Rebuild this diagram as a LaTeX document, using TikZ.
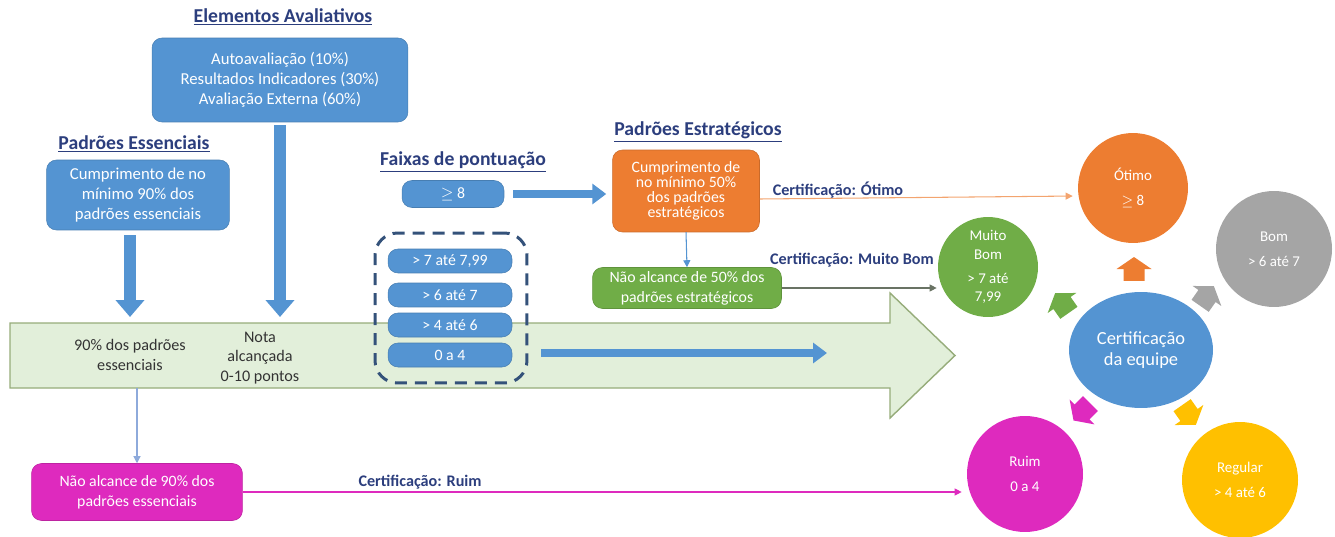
\documentclass[tikz,border=0pt]{standalone}
\usepackage{fontspec}
\setmainfont{Carlito}
\usepackage{tikz}
\usetikzlibrary{shapes,arrows.meta,positioning,calc}
\definecolor{boxblue}{RGB}{84,148,210}
\definecolor{navy}{RGB}{44,62,125}
\definecolor{dashblue}{RGB}{52,82,122}
\definecolor{lightblue}{RGB}{142,170,219}
\definecolor{optorange}{RGB}{237,125,49}
\definecolor{optgreen}{RGB}{112,173,71}
\definecolor{optgray}{RGB}{165,165,165}
\definecolor{optgold}{RGB}{255,192,0}
\definecolor{optpink}{RGB}{222,42,190}
\definecolor{linegray}{RGB}{105,115,100}
\definecolor{bandfill}{RGB}{226,239,218}
\definecolor{bandline}{RGB}{150,172,122}
\tikzstyle{block} = [draw=boxblue!85!black, line width=0.3pt, fill=boxblue, rounded corners=0.2cm, text=white, align=center, inner sep=0pt, font=\fontsize{9}{11.3}\selectfont]
\tikzstyle{title} = [text=navy, inner sep=0pt, font=\bfseries\fontsize{11.2}{13}\selectfont]
\tikzstyle{cert} = [text=navy, inner sep=0pt, font=\bfseries\fontsize{9.2}{11}\selectfont]
\tikzstyle{grade} = [circle, text=white, align=center, inner sep=0pt, font=\fontsize{8.5}{10.5}\selectfont]
\tikzstyle{bandtext} = [text=black!80, align=center, inner sep=0pt, font=\fontsize{9.2}{11.3}\selectfont]
\tikzstyle{bigarrow} = [boxblue, line width=0.24cm, -{Triangle[length=0.34cm,width=0.56cm]}]
\tikzstyle{midarrow} = [boxblue, line width=0.17cm, -{Triangle[length=0.28cm,width=0.4cm]}]
\tikzstyle{thinarrow} = [line width=0.6pt, -{Triangle[length=4pt,width=4pt]}]

\begin{document}
\begin{tikzpicture}[x=0.02cm, y=-0.02cm]
    \useasboundingbox (0,0) rectangle (1335,537);
    % Green band
    \draw[bandline, fill=bandfill, line width=0.8pt] (10,323) -- (890,323) -- (890,293) -- (955,355.5) -- (890,418) -- (890,388) -- (10,388) -- cycle;
    \coordinate (bandtop) at (0,317);
    \coordinate (bandbot) at (0,388);
    \coordinate (bandgoal) at (827,353);
    \coordinate (essdrop) at (130,317);
    \node[bandtext] (pct) at (130,355) {90\% dos padrões\\essenciais};
    \node[bandtext] (nota) at (260,358) {Nota\\alcançada\\0-10 pontos};

    % Evaluation elements
    \node[title] (tElem) at (283,17) {\underline{Elementos Avaliativos}};
    \node[block, minimum width=5.12cm, minimum height=1.68cm, font=\fontsize{9.5}{11.3}\selectfont] (elem) at (280,80) {Autoavaliação (10\%)\\Resultados Indicadores (30\%)\\Avaliação Externa (60\%)};
    \node[title] (tEssen) at (134,144) {\underline{Padrões Essenciais}};
    \node[block, minimum width=3.66cm, minimum height=1.4cm, font=\fontsize{9.5}{11.3}\selectfont] (essen) at (138,195) {Cumprimento de no\\mínimo 90\% dos\\padrões essenciais};

    % Score ranges
    \node[title] (tFaixas) at (463,162) {\underline{Faixas de pontuação}};
    \node[block, minimum width=2.04cm, minimum height=0.54cm] (ge8) at (453,194) {$\geq$ 8};
    \node[draw=dashblue, line width=1.7pt, dash pattern=on 0.24cm off 0.16cm, rounded corners=0.45cm, minimum width=3.04cm, minimum height=3.0cm] (faixas) at (451,308) {};
    \node[block, minimum width=2.48cm, minimum height=0.48cm] (f1) at (450,261) {> 7 até 7,99};
    \node[block, minimum width=2.48cm, minimum height=0.48cm] (f2) at (450,295) {> 6 até 7};
    \node[block, minimum width=2.48cm, minimum height=0.48cm] (f3) at (450,325) {> 4 até 6};
    \node[block, minimum width=2.48cm, minimum height=0.48cm] (f4) at (450,355) {0 a 4};

    % Strategic standards
    \node[title] (tEstrat) at (698,132) {\underline{Padrões Estratégicos}};
    \node[block, fill=optorange, draw=optorange!85!black, minimum width=2.94cm, minimum height=1.64cm, font=\fontsize{9}{8.6}\selectfont] (estrat) at (686,191) {Cumprimento de\\no mínimo 50\%\\dos padrões\\estratégicos};
    \node[block, fill=optgreen, draw=optgreen!85!black, minimum width=3.78cm, minimum height=0.82cm] (naoest) at (687,288) {Não alcance de 50\% dos\\padrões estratégicos};
    \node[block, fill=optpink, draw=optpink!85!black, minimum width=4.22cm, minimum height=1.14cm] (naoess) at (137,492) {Não alcance de 90\% dos\\padrões essenciais};

    % Certification
    \node[grade, fill=optorange, minimum size=2.2cm] (otimo) at (1133,188) {Ótimo\\[4pt]$\geq$ 8};
    \node[grade, fill=optgreen, minimum size=2.0cm] (mbom) at (988,267) {Muito\\Bom\\[3pt]> 7 até\\7,99};
    \node[grade, fill=optgray, minimum size=2.32cm] (bom) at (1274,249) {Bom\\[4pt]> 6 até 7};
    \node[ellipse, fill=boxblue, text=white, align=center, inner sep=0pt, minimum width=2.88cm, minimum height=2.32cm, font=\fontsize{10.5}{12}\selectfont] (centre) at (1141,350) {Certificação\\da equipe};
    \node[grade, fill=optpink, minimum size=2.32cm] (ruim) at (1025,474) {Ruim\\[4pt]0 a 4};
    \node[grade, fill=optgold, minimum size=2.32cm] (regular) at (1240,480) {Regular\\[4pt]> 4 até 6};
    % small arrows round the centre
    \foreach \ax/\ay/\ang/\col in {1134/269/90/optorange, 1062/303/125/optgreen, 1207/296/55/optgray, 1082/412/225/optpink, 1189/415/-55/optgold}
        \fill[\col, shift={(\ax,\ay)}, rotate=\ang] (-0.24cm,-0.21cm) -- (0,-0.21cm) -- (0,-0.35cm) -- (0.24cm,0) -- (0,0.35cm) -- (0,0.21cm) -- (-0.24cm,0.21cm) -- cycle;

    % Connections
    \draw[bigarrow, shorten <=0.06cm] (elem.south) -- (elem.south |- bandtop);
    \draw[bigarrow, shorten <=0.1cm] (essen.south -| essdrop) -- (essdrop);
    \draw[midarrow, shorten <=0.18cm, shorten >=0.12cm] (ge8.east) -- (ge8.east -| estrat.west);
    \draw[midarrow, shorten <=0.26cm] (faixas.east |- bandgoal) -- (bandgoal);
    \draw[thinarrow, boxblue] (estrat.south) -- (naoest.north);
    \draw[thinarrow, lightblue] (naoess.north |- bandbot) -- (naoess.north);
    \draw[thinarrow, optorange!70, shorten >=0.1cm] ([yshift=-0.16cm]estrat.east) -- node[cert, pos=0.246, above=0pt] {Certificação: Ótimo} ([yshift=-0.16cm]otimo.west);
    \draw[thinarrow, linegray, shorten >=0.02cm] (naoest.east) -- node[cert, pos=0.45, above=0.4cm] {Certificação: Muito Bom} (naoest.east -| mbom.west);
    \draw[thinarrow, optpink, shorten >=0.1cm] (naoess.east) -- node[cert, pos=0.245, above=0.04cm] {Certificação: Ruim} (naoess.east -| ruim.west);
\end{tikzpicture}
\end{document}
